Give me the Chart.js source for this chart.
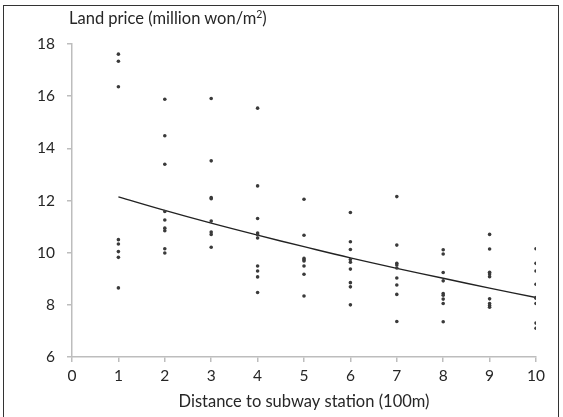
<!DOCTYPE html>
<html>
<head>
<meta charset="utf-8">
<script src="https://cdn.jsdelivr.net/npm/chart.js@4.4.1/dist/chart.umd.min.js"></script>
<style>
  html, body { margin: 0; padding: 0; background: #fff; }
  #wrap { position: relative; width: 563px; height: 417px; overflow: hidden; }
  #frame { position: absolute; left: 3px; top: 5px; width: 556px; height: 420px; border: 1.5px solid #333; box-sizing: border-box; }
  #chart { position: absolute; left: 0; top: 0; }
  #ytitle { position: absolute; left: 69px; top: 8px; font-family: Lato, "Open Sans", sans-serif; font-size: 16.5px; color: #262626; white-space: nowrap; }
  #ytitle sup { font-size: 10.5px; line-height: 0; vertical-align: 6px; }
</style>
</head>
<body>
<div id="wrap">
  <div id="frame"></div>
  <canvas id="chart" width="563" height="417"></canvas>
  <div id="ytitle">Land price (million won/m<sup>2</sup>)</div>
</div>
<script>
Chart.defaults.color = '#262626';
Chart.defaults.font.family = 'Lato, "Open Sans", sans-serif';

const axisColor = '#bdbdbd';
const pointColor = '#3a3a3a';

// distance to subway station (100m)
const distances = [1, 2, 3, 4, 5, 6, 7, 8, 9, 10];

// land prices observed at each distance (million won/m2)
const pricesAt1 = [17.61, 17.34, 16.36, 10.50, 10.33, 10.04, 9.82, 8.65];
const pricesAt2 = [15.88, 14.48, 13.39, 11.58, 11.25, 10.94, 10.84, 10.15, 9.99];
const pricesAt3 = [15.91, 13.52, 12.11, 12.07, 11.21, 10.79, 10.70, 10.21];
const pricesAt4 = [15.54, 12.56, 11.31, 10.75, 10.69, 10.56, 9.49, 9.30, 9.07, 8.47];
const pricesAt5 = [12.05, 10.67, 9.78, 9.73, 9.68, 9.49, 9.17, 8.34];
const pricesAt6 = [11.54, 10.42, 10.12, 9.74, 9.63, 9.37, 8.85, 8.69, 8.00];
const pricesAt7 = [12.15, 10.29, 9.59, 9.53, 9.41, 9.03, 8.76, 8.40, 7.36];
const pricesAt8 = [10.11, 9.95, 9.24, 8.92, 8.43, 8.37, 8.22, 8.05, 7.35];
const pricesAt9 = [10.70, 10.14, 9.25, 9.18, 9.08, 8.23, 8.05, 7.97, 7.91];
const pricesAt10 = [10.15, 9.59, 9.30, 8.79, 8.28, 8.25, 8.05, 7.30, 7.10];

// trend line read at each distance
const trendValues = [12.14, 11.62, 11.13, 10.67, 10.23, 9.80, 9.40, 9.02, 8.64, 8.28];

const xTicks = [0, 1, 2, 3, 4, 5, 6, 7, 8, 9, 10];
const yTicks = [6, 8, 10, 12, 14, 16, 18];

const priceGroups = [pricesAt1, pricesAt2, pricesAt3, pricesAt4, pricesAt5, pricesAt6, pricesAt7, pricesAt8, pricesAt9, pricesAt10];

const scatterPoints = [];
priceGroups.forEach((group, i) => {
  group.forEach(v => scatterPoints.push({ x: distances[i], y: v }));
});
const trendPoints = distances.map((d, i) => ({ x: d, y: trendValues[i] }));

new Chart(document.getElementById('chart'), {
  type: 'scatter',
  data: {
    datasets: [
      {
        data: scatterPoints,
        pointRadius: 1.8,
        pointHoverRadius: 1.8,
        pointBorderWidth: 0,
        backgroundColor: pointColor,
        borderColor: pointColor,
      },
      {
        type: 'line',
        data: trendPoints,
        borderColor: '#222',
        borderWidth: 1.4,
        pointRadius: 0,
        tension: 0.4,
        fill: false,
      }
    ]
  },
  options: {
    responsive: false,
    animation: false,
    layout: {
      padding: { left: 0, top: 44, right: 27, bottom: 0 }
    },
    plugins: {
      legend: { display: false },
      tooltip: { enabled: false }
    },
    scales: {
      x: {
        type: 'linear',
        min: 0,
        max: 10,
        afterBuildTicks: scale => { scale.ticks = xTicks.map(v => ({ value: v })); },
        afterFit: scale => { scale.height = 60; },
        border: { color: axisColor, width: 1.5 },
        grid: { drawOnChartArea: false, tickLength: 5, color: axisColor, lineWidth: 1.5 },
        ticks: { font: { size: 15.5 }, padding: 5 },
        title: {
          display: true,
          text: 'Distance to subway station (100m)',
          font: { size: 16.5 },
          padding: { top: 2, bottom: 5 }
        }
      },
      y: {
        min: 6,
        max: 18,
        afterBuildTicks: scale => { scale.ticks = yTicks.map(v => ({ value: v })); },
        afterFit: scale => { scale.width = 72; },
        border: { color: axisColor, width: 1.5 },
        grid: { drawOnChartArea: false, tickLength: 5, color: axisColor, lineWidth: 1.5 },
        ticks: { font: { size: 15.5 }, padding: 12 }
      }
    }
  }
});
</script>
</body>
</html>
